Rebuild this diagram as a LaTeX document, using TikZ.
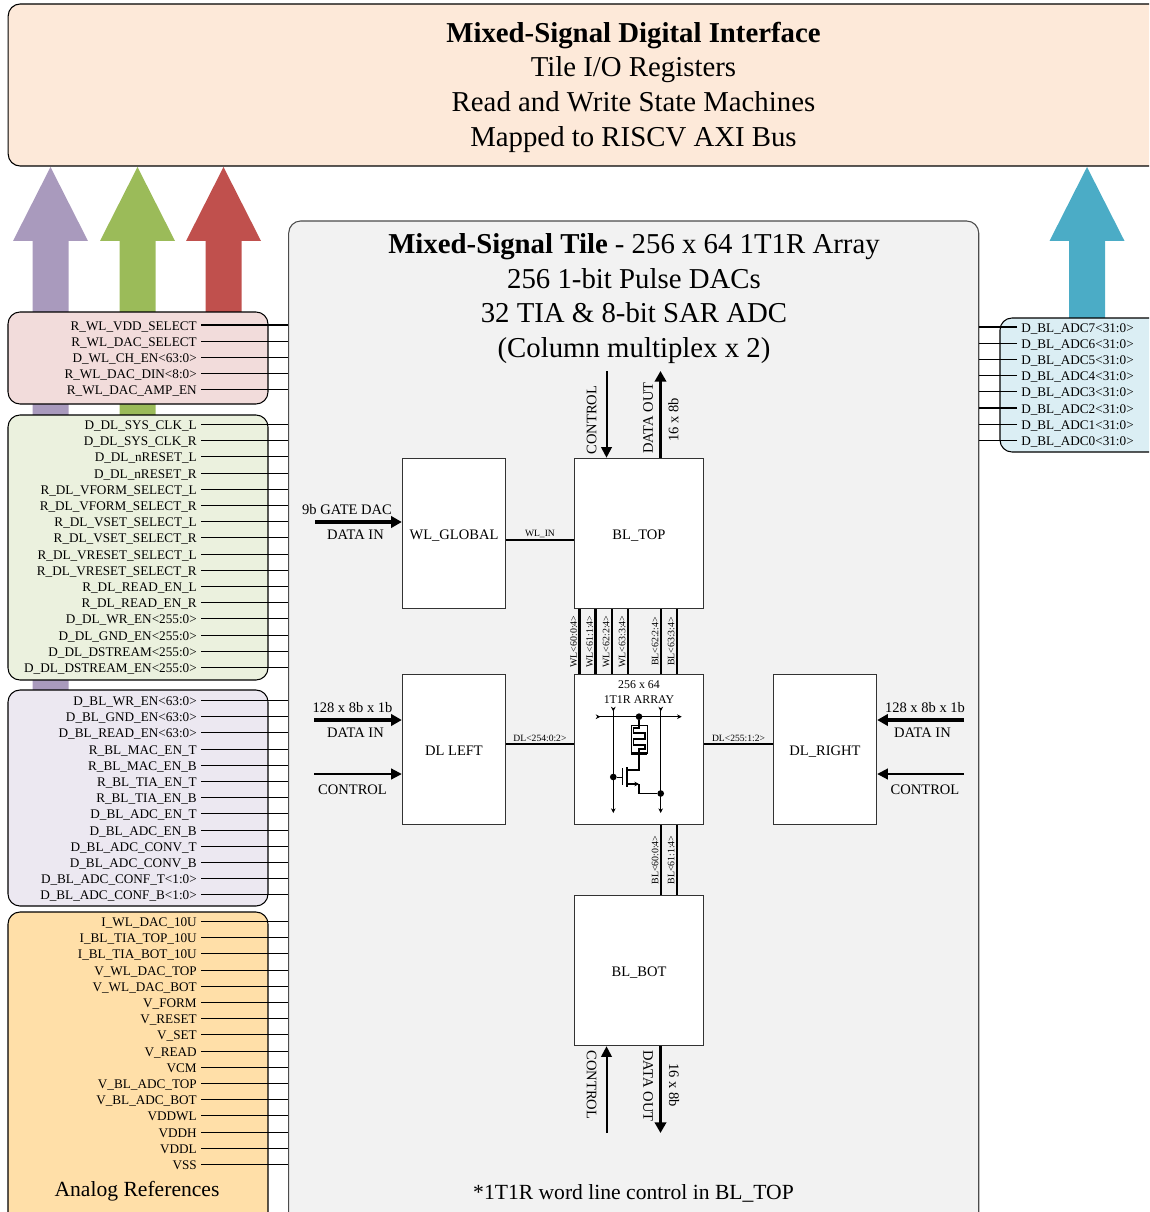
\documentclass[tikz,border=0pt]{standalone}
\usepackage{fontspec}
\setmainfont{Liberation Serif}
\usetikzlibrary{positioning,arrows.meta}
\definecolor{headfill}{HTML}{FDE9D9}
\definecolor{tilefill}{HTML}{F2F2F2}
\definecolor{wlfill}{HTML}{F2DCDB}
\definecolor{dlfill}{HTML}{EBF1DE}
\definecolor{blfill}{HTML}{ECE8F1}
\definecolor{anafill}{HTML}{FFDFA8}
\definecolor{adcfill}{HTML}{DBEEF4}
\definecolor{arrowpurple}{HTML}{A99ABD}
\definecolor{arrowgreen}{HTML}{9BBB59}
\definecolor{arrowred}{HTML}{C0504D}
\definecolor{arrowblue}{HTML}{4BACC6}
\tikzset{
  panel/.style={draw=black,line width=0.8pt,rounded corners=9pt,inner sep=0pt},
  siglabel/.style={font=\fontsize{9.9pt}{11pt}\selectfont,inner sep=3pt,text height=9.5pt,text depth=2pt},
  sigline/.style={line width=0.8pt},
  block/.style={draw=black!80,fill=white,line width=0.7pt,minimum height=113pt,inner sep=0pt,text height=8.5pt,text depth=0pt,font=\fontsize{10.9pt}{12pt}\selectfont},
  narrowblock/.style={block,minimum width=77.6pt},
  wideblock/.style={block,minimum width=97.2pt},
  textlabel/.style={font=\fontsize{10.9pt}{12pt}\selectfont,inner sep=0pt},
  buslabel/.style={font=\fontsize{7.4pt}{8pt}\selectfont,inner sep=1pt,rotate=90,above},
  flatlabel/.style={font=\fontsize{7.2pt}{8pt}\selectfont,inner sep=1pt,above},
  busline/.style={line width=1.9pt},
  dataarrow/.style={line width=2.6pt,-{Triangle[length=8pt,width=8.5pt]}},
  ctlarrow/.style={line width=1.5pt,-{Triangle[length=8pt,width=8pt]}},
  symline/.style={line width=0.6pt},
  symends/.style={symline,{Stealth[length=3.5pt,width=3.5pt,reversed]}-{Stealth[length=3.5pt,width=3.5pt]}},
  symdot/.style={circle,fill=black,inner sep=0pt,minimum size=5pt},
}
\begin{document}
\begin{tikzpicture}[x=0.75pt,y=-0.75pt]
\useasboundingbox (0,0) rectangle (1149,1212);
\clip (0,0) rectangle (1149,1212);
\foreach \cx/\col/\len in {50.5/arrowpurple/449,137.5/arrowgreen/174,223.5/arrowred/71,1087/arrowblue/77}
  \fill[\col] (\cx,167) -- ++(37.5,74) -- ++(-19.5,0) -- ++(0,\len) -- ++(-36,0) -- ++(0,-\len) -- ++(-19.5,0) -- cycle;

\node[panel,fill=headfill,minimum width=938pt,minimum height=121.5pt] (head) at (633.5,85) {};
\node[align=center,inner sep=0pt,font=\fontsize{21.6pt}{26pt}\selectfont] (headtitle) at (633.5,87)
  {\textbf{Mixed-Signal Digital Interface}\\Tile I/O Registers\\Read and Write State Machines\\Mapped to RISCV AXI Bus};
\node[panel,draw=black!70,fill=tilefill,minimum width=517.5pt,minimum height=765pt] (tile) at (633.7,731) {};
\node[align=center,inner sep=0pt,font=\fontsize{21.6pt}{26pt}\selectfont] (tiletitle) at (634,298.5)
  {\textbf{Mixed-Signal Tile} - 256 x 64 1T1R Array\\256 1-bit Pulse DACs\\32 TIA \& 8-bit SAR ADC\\(Column multiplex x 2)};
\node[inner sep=0pt,font=\fontsize{16.2pt}{18pt}\selectfont] (tilenote) at (633.5,1193) {*1T1R word line control in BL\_TOP};

\node[panel,fill=wlfill,minimum width=195pt,minimum height=69pt] (wlpanel) at (138,358) {};
\node[panel,fill=dlfill,minimum width=195pt,minimum height=198.75pt] (dlpanel) at (138,547.5) {};
\node[panel,fill=blfill,minimum width=195pt,minimum height=162pt] (blpanel) at (138,798) {};
\node[panel,fill=anafill,minimum width=195pt,minimum height=247.5pt] (anapanel) at (138,1077) {};
\node[panel,fill=adcfill,minimum width=150pt,minimum height=100.5pt] (adcpanel) at (1100,385) {};
\node[inner sep=0pt,font=\fontsize{16.2pt}{18pt}\selectfont] (analabel) at (137,1191) {Analog References};

\foreach \lbl [count=\i from 0] in {R\_WL\_VDD\_SELECT,R\_WL\_DAC\_SELECT,D\_WL\_CH\_EN<63:0>,R\_WL\_DAC\_DIN<8:0>,R\_WL\_DAC\_AMP\_EN} {
  \node[siglabel,anchor=east] (wl\i) at (201,{325+16.1*\i}) {\lbl};
  \draw[sigline] (wl\i.east) -- (wl\i.east -| tile.west);
}
\foreach \lbl [count=\i from 0] in {D\_DL\_SYS\_CLK\_L,D\_DL\_SYS\_CLK\_R,D\_DL\_nRESET\_L,D\_DL\_nRESET\_R,R\_DL\_VFORM\_SELECT\_L,R\_DL\_VFORM\_SELECT\_R,R\_DL\_VSET\_SELECT\_L,R\_DL\_VSET\_SELECT\_R,R\_DL\_VRESET\_SELECT\_L,R\_DL\_VRESET\_SELECT\_R,R\_DL\_READ\_EN\_L,R\_DL\_READ\_EN\_R,D\_DL\_WR\_EN<255:0>,D\_DL\_GND\_EN<255:0>,D\_DL\_DSTREAM<255:0>,D\_DL\_DSTREAM\_EN<255:0>} {
  \node[siglabel,anchor=east] (dl\i) at (201,{424.5+16.2*\i}) {\lbl};
  \draw[sigline] (dl\i.east) -- (dl\i.east -| tile.west);
}
\foreach \lbl [count=\i from 0] in {D\_BL\_WR\_EN<63:0>,D\_BL\_GND\_EN<63:0>,D\_BL\_READ\_EN<63:0>,R\_BL\_MAC\_EN\_T,R\_BL\_MAC\_EN\_B,R\_BL\_TIA\_EN\_T,R\_BL\_TIA\_EN\_B,D\_BL\_ADC\_EN\_T,D\_BL\_ADC\_EN\_B,D\_BL\_ADC\_CONV\_T,D\_BL\_ADC\_CONV\_B,D\_BL\_ADC\_CONF\_T<1:0>,D\_BL\_ADC\_CONF\_B<1:0>} {
  \node[siglabel,anchor=east] (bl\i) at (201,{700.5+16.2*\i}) {\lbl};
  \draw[sigline] (bl\i.east) -- (bl\i.east -| tile.west);
}
\foreach \lbl [count=\i from 0] in {I\_WL\_DAC\_10U,I\_BL\_TIA\_TOP\_10U,I\_BL\_TIA\_BOT\_10U,V\_WL\_DAC\_TOP,V\_WL\_DAC\_BOT,V\_FORM,V\_RESET,V\_SET,V\_READ,VCM,V\_BL\_ADC\_TOP,V\_BL\_ADC\_BOT,VDDWL,VDDH,VDDL,VSS} {
  \node[siglabel,anchor=east] (ana\i) at (201,{921.5+16.2*\i}) {\lbl};
  \draw[sigline] (ana\i.east) -- (ana\i.east -| tile.west);
}
\foreach \n [count=\i from 0] in {7,6,5,4,3,2,1,0} {
  \node[siglabel,anchor=west] (adc\n) at (1017,{327+16.2*\i}) {D\_BL\_ADC\n<31:0>};
  \draw[sigline] (adc\n.west) -- (adc\n.west -| tile.east);
}

\node[narrowblock] (wlglobal) at (454,533.5) {WL\_GLOBAL};
\node[wideblock] (bltop) at (639,533.5) {BL\_TOP};
\node[narrowblock] (dlleft) at (454,749.5) {DL LEFT};
\node[wideblock] (tilearray) at (639,749.5) {};
\node[narrowblock] (dlright) at (825,749.5) {DL\_RIGHT};
\node[wideblock] (blbot) at (639,970.5) {BL\_BOT};

\draw[busline] (wlglobal.east |- 0,540) -- node[flatlabel] (wlinlabel) {WL\_IN} (bltop.west |- 0,540);
\draw[busline] (dlleft.east |- 0,744) -- node[flatlabel] (dlevenlabel) {DL<254:0:2>} (tilearray.west |- 0,744);
\draw[busline] (tilearray.east |- 0,744) -- node[flatlabel] (dloddlabel) {DL<255:1:2>} (dlright.west |- 0,744);
\foreach \x/\lbl [count=\i] in {579.5/WL<60:0:4>,595.7/WL<61:1:4>,612/WL<62:2:4>,628/WL<63:3:4>,661/BL<62:2:4>,677/BL<63:3:4>}
  \draw[busline] (\x,0 |- bltop.south) -- node[buslabel] (toplabel\i) {\lbl} (\x,0 |- tilearray.north);
\foreach \x/\lbl [count=\i] in {661/BL<60:0:4>,677/BL<61:1:4>}
  \draw[busline] (\x,0 |- tilearray.south) -- node[buslabel] (botlabel\i) {\lbl} (\x,0 |- blbot.north);

\coordinate (wlin) at (315,522);
\coordinate (dlindata) at (314,720);
\coordinate (dlinctl) at (314,774);
\coordinate (drindata) at (964,720);
\coordinate (drinctl) at (964,774);
\coordinate (topctl) at (606.5,371);
\coordinate (topdata) at (660.5,371);
\coordinate (botctl) at (606.5,1133);
\coordinate (botdata) at (660.5,1133);
\draw[dataarrow] (wlin) -- (wlin -| wlglobal.west);
\draw[dataarrow] (dlindata) -- (dlindata -| dlleft.west);
\draw[ctlarrow] (dlinctl) -- (dlinctl -| dlleft.west);
\draw[dataarrow] (drindata) -- (drindata -| dlright.east);
\draw[ctlarrow] (drinctl) -- (drinctl -| dlright.east);
\draw[ctlarrow] (topctl) -- (topctl |- bltop.north);
\draw[dataarrow] (topdata |- bltop.north) -- (topdata);
\draw[ctlarrow] (botctl) -- (botctl |- blbot.south);
\draw[dataarrow] (botdata |- blbot.south) -- (botdata);

\node[textlabel] (wlgate) at (347,510) {9b GATE DAC};
\node[textlabel] (wldata) at (355.5,535) {DATA IN};
\node[textlabel] (dlwidth) at (352.5,708) {128 x 8b x 1b};
\node[textlabel] (dldata) at (355.5,733) {DATA IN};
\node[textlabel] (dlctl) at (352.5,790) {CONTROL};
\node[textlabel] (drwidth) at (925,708) {128 x 8b x 1b};
\node[textlabel] (drdata) at (922.5,733) {DATA IN};
\node[textlabel] (drctl) at (925,790) {CONTROL};
\node[textlabel,rotate=90] (topctllabel) at (591.5,420) {CONTROL};
\node[textlabel,rotate=90] (topdatalabel) at (648,418) {DATA OUT};
\node[textlabel,rotate=90] (topwidth) at (673.5,420) {16 x 8b};
\node[textlabel,rotate=-90] (botctllabel) at (591.5,1085) {CONTROL};
\node[textlabel,rotate=-90] (botdatalabel) at (648,1086) {DATA OUT};
\node[textlabel,rotate=-90] (botwidth) at (674,1085) {16 x 8b};

\node[font=\fontsize{8.9pt}{10pt}\selectfont,inner sep=0pt] (arraysize) at (639,685) {256 x 64};
\node[font=\fontsize{8.9pt}{10pt}\selectfont,inner sep=0pt] (arrayname) at (639,700) {1T1R ARRAY};

\coordinate (wlleft) at (595.7,716.7);
\coordinate (wlright) at (681.7,716.7);
\coordinate (bltopa) at (613.3,706.7);
\coordinate (blbota) at (613.3,813);
\coordinate (bltopb) at (660.7,706.7);
\coordinate (blbotb) at (660.7,813);
\node[symdot] (wldot) at (639,716.7) {};
\node[symdot] (gatedot) at (613.3,777) {};
\node[symdot] (srcdot) at (660.7,793.5) {};
\draw[symends] (wlleft) -- (wlright);
\draw[symends] (bltopa) -- (blbota);
\draw[symends] (bltopb) -- (blbotb);
\draw[symline,fill=white] (631,725) rectangle (647,753);
\fill (631,751.5) rectangle (647,754.5);
\draw[line width=0.8pt] (wldot) -- (639,728) -- (633.5,728) -- (633.5,733) -- (645,733) -- (645,739) -- (633.5,739) -- (633.5,745) -- (645,745) -- (645,749) -- (639,749) -- (639,752);
\draw[line width=1pt] (639,754) -- (639,770) -- (627,770);
\draw[line width=1pt] (627,767) -- (627,787);
\draw[line width=1.2pt] (622.5,768) -- (622.5,785);
\draw[symline] (gatedot) -- (622.5,777);
\draw[line width=1pt,-{Stealth[length=3.5pt,width=3.5pt]}] (627,784) -- (639,784);
\draw[line width=1pt] (639,784) -- (639,793.5) -- (srcdot);
\end{tikzpicture}
\end{document}
